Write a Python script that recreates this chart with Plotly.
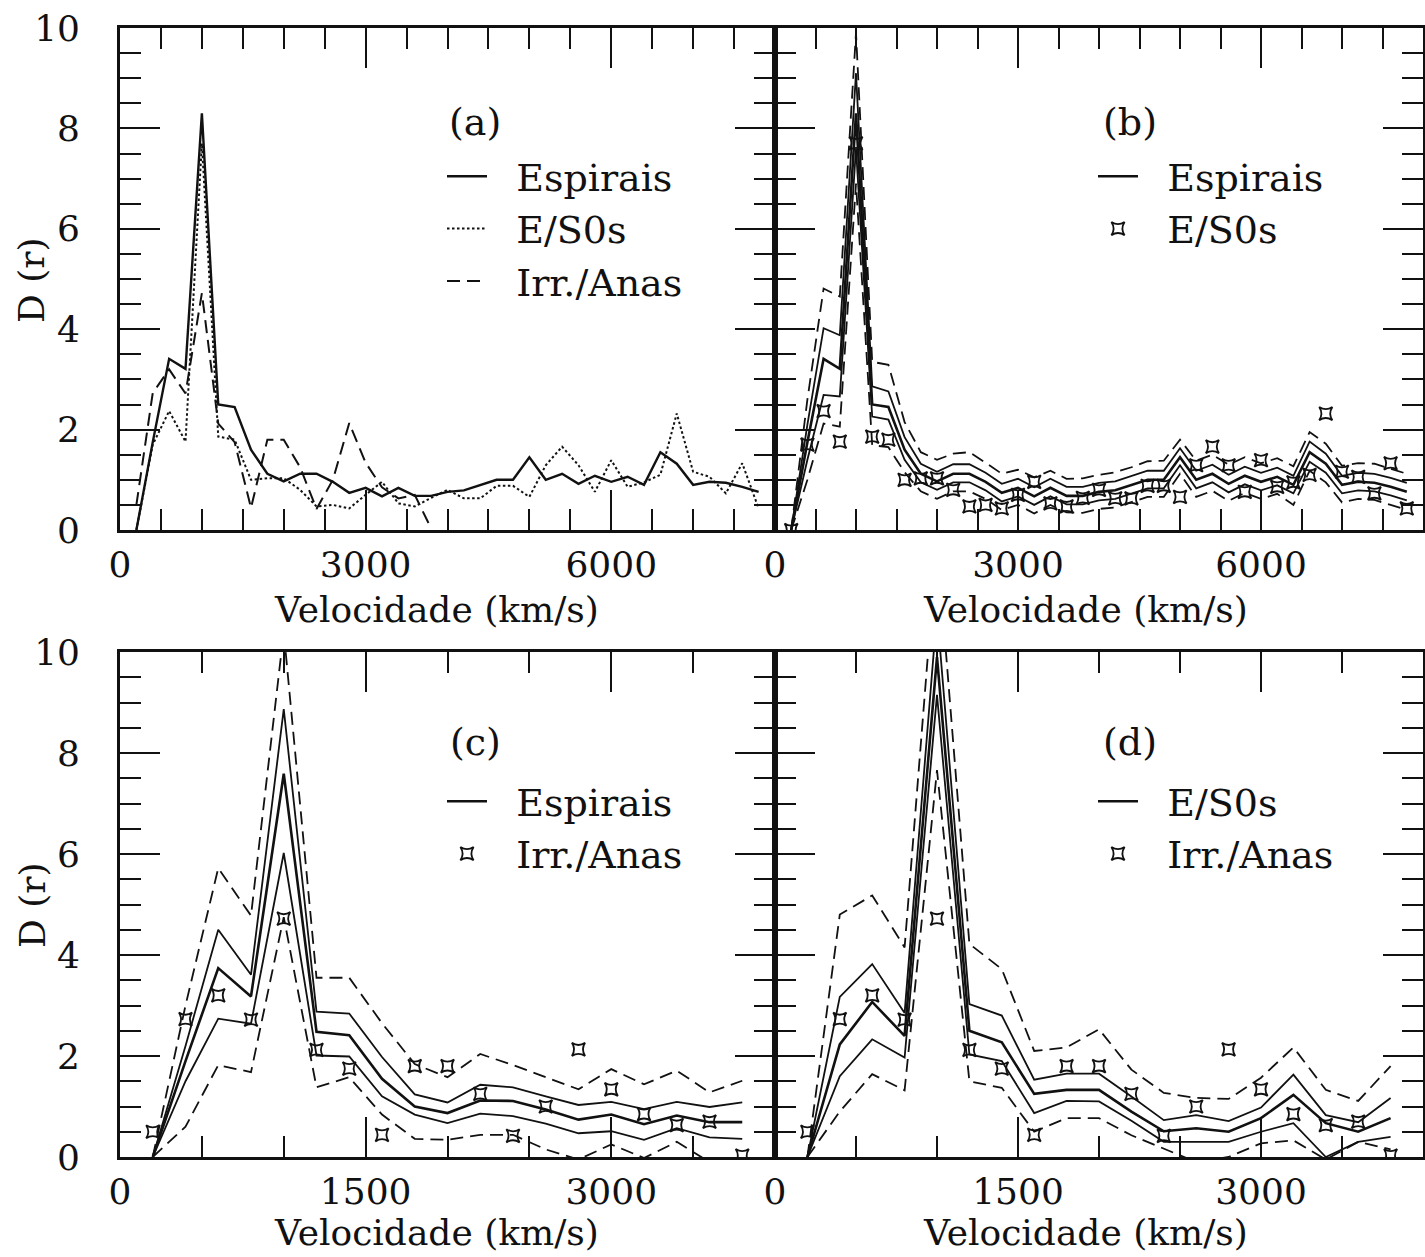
import plotly.graph_objects as go

W, H = 1425, 1257

# ---------------- data ----------------
# velocity bins (km/s)
vel = [200, 400, 600, 800, 1000, 1200, 1400, 1600, 1800, 2000, 2200, 2400, 2600,
       2800, 3000, 3200, 3400, 3600, 3800, 4000, 4200, 4400, 4600, 4800, 5000,
       5200, 5400, 5600, 5800, 6000, 6200, 6400, 6600, 6800, 7000, 7200, 7400,
       7600, 7800]
vel_low = vel[:19]   # 200 .. 3800

espirais = [0.0, 1.75, 3.41, 3.21, 8.3, 2.5, 2.45, 1.6, 1.12, 0.97, 1.12, 1.12, 0.96,
            0.74, 0.84, 0.67, 0.84, 0.68, 0.68, 0.76, 0.79, 0.89, 1.0, 1.0, 1.45,
            1.0, 1.12, 0.92, 1.08, 0.96, 1.06, 0.9, 1.55, 1.32, 0.9, 0.96, 0.94,
            0.86, 0.76]
es0 = [0.0, 1.7, 2.37, 1.76, 7.7, 1.86, 1.8, 1.0, 1.03, 1.03, 0.8, 0.47, 0.5,
       0.43, 0.7, 0.96, 0.53, 0.47, 0.64, 0.8, 0.63, 0.63, 0.88, 0.88, 0.66,
       1.29, 1.66, 1.29, 0.76, 1.39, 0.86, 0.95, 1.1, 2.32, 1.16, 1.06, 0.73,
       1.33, 0.43]
irr = [0.5, 2.73, 3.2, 2.72, 4.72, 2.12, 1.75, 0.44, 1.8, 1.8, 1.25, 0.42, 1.0,
       2.13, 1.34, 0.85, 0.63, 0.7, 0.03]

# panel (b): envelopes around the spiral curve
b_hi2 = [0, 2.6, 4.81, 4.65, 9.9, 3.35, 3.29, 2.15, 1.55, 1.4, 1.52, 1.55, 1.34,
         1.12, 1.2, 1.05, 1.18, 1.02, 1.03, 1.1, 1.15, 1.25, 1.37, 1.38, 1.8,
         1.38, 1.5, 1.3, 1.45, 1.33, 1.43, 1.27, 1.95, 1.72, 1.28, 1.33, 1.32,
         1.22, 1.12]
b_hi1 = [0, 2.1, 4.02, 3.88, 9.1, 2.86, 2.76, 1.85, 1.32, 1.16, 1.31, 1.31, 1.14,
         0.92, 1.02, 0.85, 1.02, 0.86, 0.86, 0.94, 0.97, 1.07, 1.18, 1.18, 1.63,
         1.18, 1.3, 1.1, 1.26, 1.14, 1.24, 1.08, 1.76, 1.52, 1.08, 1.14, 1.12,
         1.04, 0.94]
b_lo1 = [0, 1.4, 2.69, 2.66, 7.6, 2.26, 2.2, 1.4, 0.95, 0.8, 0.95, 0.95, 0.79,
         0.57, 0.67, 0.5, 0.67, 0.51, 0.51, 0.59, 0.62, 0.72, 0.83, 0.83, 1.29,
         0.83, 0.95, 0.75, 0.91, 0.79, 0.89, 0.73, 1.36, 1.14, 0.73, 0.79, 0.77,
         0.69, 0.59]
b_lo2 = [0, 1.0, 2.12, 2.06, 6.9, 1.69, 1.65, 1.15, 0.77, 0.62, 0.77, 0.77, 0.62,
         0.4, 0.5, 0.33, 0.5, 0.35, 0.34, 0.42, 0.45, 0.55, 0.66, 0.66, 1.12,
         0.66, 0.78, 0.58, 0.74, 0.62, 0.72, 0.5, 1.18, 0.95, 0.55, 0.62, 0.6,
         0.5, 0.4]

# panel (c): spirals (0-4000 km/s) with envelopes
c_mid = [0, 1.9, 3.74, 3.18, 7.59, 2.48, 2.41, 1.55, 1.0, 0.87, 1.12, 1.11, 0.94,
         0.74, 0.84, 0.65, 0.82, 0.69, 0.69]
c_hi1 = [0, 2.2, 4.5, 3.61, 8.87, 2.88, 2.84, 1.98, 1.24, 1.08, 1.43, 1.38, 1.2,
         1.03, 1.09, 0.95, 1.09, 0.99, 1.08]
c_lo1 = [0, 1.5, 2.74, 2.64, 6.02, 2.01, 1.99, 1.2, 0.84, 0.67, 0.86, 0.81, 0.66,
         0.47, 0.51, 0.34, 0.57, 0.39, 0.36]
c_hi2 = [0, 3.0, 5.72, 4.78, 10.4, 3.55, 3.55, 2.65, 1.84, 1.58, 2.04, 1.82, 1.58,
         1.34, 1.74, 1.44, 1.71, 1.28, 1.51]
c_lo2 = [0, 0.6, 1.82, 1.68, 4.75, 1.38, 1.58, 0.84, 0.36, 0.34, 0.44, 0.44, 0.15,
         -0.05, 0.25, -0.02, 0.3, -0.1, -0.3]

# panel (d): E/S0s (0-4000 km/s) with envelopes
d_mid = [0, 2.23, 3.07, 2.4, 9.9, 2.5, 2.27, 1.25, 1.33, 1.33, 0.9, 0.51, 0.57,
         0.5, 0.77, 1.23, 0.67, 0.5, 0.77]
d_hi1 = [0, 3.17, 3.82, 2.85, 10.8, 3.03, 2.8, 1.53, 1.65, 1.65, 1.2, 0.73, 0.83,
         0.71, 0.98, 1.63, 0.83, 0.69, 1.17]
d_lo1 = [0, 1.6, 2.33, 1.97, 9.15, 2.03, 1.9, 0.87, 1.11, 1.1, 0.72, 0.3, 0.3,
         0.3, 0.5, 0.67, 0.0, 0.3, 0.4]
d_hi2 = [0, 4.8, 5.18, 4.15, 12.2, 4.22, 3.72, 2.1, 2.17, 2.53, 1.73, 1.27, 1.17,
         1.15, 1.57, 2.17, 1.33, 1.11, 1.8]
d_lo2 = [0, 0.9, 1.64, 1.32, 7.66, 1.5, 1.37, 0.5, 0.77, 0.77, 0.43, 0.17, -0.1,
         0.0, 0.27, 0.33, -0.05, 0.3, 0.15]

# ---------------- styling ----------------
FONT = "DejaVu Serif"
INK = "#111111"
DASH = "13px,7px"
DOT = "2.5px,2.5px"
GAP = "\u00a0\u00a0"   # space between legend symbol and its text


def px(x):
    return x / W


def py(y):
    return 1 - y / H


fig = go.Figure()


def line(xs, ys, ax, dash="solid", width=2.0, name=None, legend=None):
    fig.add_trace(go.Scatter(
        x=xs, y=ys, mode="lines", xaxis="x" + ax, yaxis="y" + ax,
        line=dict(color=INK, width=width, dash=dash),
        name=(GAP + name) if name else None, showlegend=legend is not None,
        legend=legend if legend else "legend",
    ))


def points(xs, ys, ax, name, legend):
    fig.add_trace(go.Scatter(
        x=xs, y=ys, mode="markers", xaxis="x" + ax, yaxis="y" + ax,
        marker=dict(symbol="star-square-open", size=12, color=INK,
                    line=dict(color=INK, width=1.8)),
        name=GAP + name, showlegend=True, legend=legend,
    ))


# (a)
line(vel, espirais, "", width=2.4, name="Espirais", legend="legend")
line(vel, es0, "", dash=DOT, width=2.0, name="E/S0s", legend="legend")
line(vel_low, irr, "", dash=DASH, width=2.0, name="Irr./Anas", legend="legend")

# (b)
for arr, d in ((b_hi2, DASH), (b_hi1, "solid"), (b_lo1, "solid"), (b_lo2, DASH)):
    line(vel, arr, "2", dash=d, width=1.8)
line(vel, espirais, "2", width=2.6, name="Espirais", legend="legend2")
points(vel, es0, "2", "E/S0s", "legend2")

# (c)
for arr, d in ((c_hi2, DASH), (c_hi1, "solid"), (c_lo1, "solid"), (c_lo2, DASH)):
    line(vel_low, arr, "3", dash=d, width=1.8)
line(vel_low, c_mid, "3", width=2.6, name="Espirais", legend="legend3")
points(vel_low, irr, "3", "Irr./Anas", "legend3")

# (d)
for arr, d in ((d_hi2, DASH), (d_hi1, "solid"), (d_lo1, "solid"), (d_lo2, DASH)):
    line(vel_low, arr, "4", dash=d, width=1.8)
line(vel_low, d_mid, "4", width=2.6, name="E/S0s", legend="legend4")
points(vel_low, irr, "4", "Irr./Anas", "legend4")

# ---------------- axes ----------------
col_left = [px(120), px(775)]
col_right = [px(775), px(1423)]
row_top = [py(530), py(28)]
row_bot = [py(1157), py(652)]

tickfont = dict(family=FONT, size=36, color=INK)


def xaxis(dom, anchor, rng, dtick):
    return dict(domain=dom, anchor=anchor, range=rng, dtick=dtick, tick0=0,
                automargin=False,
                showline=True, linecolor=INK, linewidth=2.6, mirror="allticks",
                ticks="inside", ticklen=40, tickwidth=2.3, tickcolor=INK,
                showgrid=False, zeroline=False, tickfont=tickfont,
                ticklabelstandoff=1,
                minor=dict(ticks="inside", ticklen=21, tickwidth=2.3,
                           tickcolor=INK, dtick=500, tick0=0, showgrid=False))


def yaxis(dom, anchor, labels):
    return dict(domain=dom, anchor=anchor, range=[0, 10], dtick=2, tick0=0,
                automargin=False,
                showline=True, linecolor=INK, linewidth=2.6, mirror="allticks",
                ticks="inside", ticklen=40, tickwidth=2.3, tickcolor=INK,
                showgrid=False, zeroline=False, tickfont=tickfont,
                showticklabels=labels, ticklabelstandoff=30,
                minor=dict(ticks="inside", ticklen=21, tickwidth=2.3,
                           tickcolor=INK, dtick=0.5, tick0=0, showgrid=False))


legend_common = dict(font=dict(family=FONT, size=38, color=INK),
                     bgcolor="rgba(0,0,0,0)", borderwidth=0,
                     xanchor="left", yanchor="top", traceorder="normal",
                     itemwidth=40, tracegroupgap=0)

fig.update_layout(
    width=W, height=H,
    margin=dict(l=0, r=0, t=0, b=0, autoexpand=False),
    paper_bgcolor="white", plot_bgcolor="white",
    xaxis=xaxis(col_left, "y", [0, 8000], 3000),
    yaxis=yaxis(row_top, "x", True),
    xaxis2=xaxis(col_right, "y2", [0, 8000], 3000),
    yaxis2=yaxis(row_top, "x2", False),
    xaxis3=xaxis(col_left, "y3", [0, 4000], 1500),
    yaxis3=yaxis(row_bot, "x3", True),
    xaxis4=xaxis(col_right, "y4", [0, 4000], 1500),
    yaxis4=yaxis(row_bot, "x4", False),
    legend=dict(x=px(442), y=py(145), **legend_common),
    legend2=dict(x=px(1093), y=py(145), **legend_common),
    legend3=dict(x=px(442), y=py(770), **legend_common),
    legend4=dict(x=px(1093), y=py(770), **legend_common),
)

# ---------------- text ----------------
ann_font = dict(family=FONT, size=38, color=INK)
title_font = dict(family=FONT, size=36, color=INK)
for txt, x, y in [("(a)", 475, 122), ("(b)", 1130, 122),
                  ("(c)", 475, 742), ("(d)", 1130, 742)]:
    fig.add_annotation(text=txt, x=px(x), y=py(y), xref="paper", yref="paper",
                       showarrow=False, font=ann_font,
                       xanchor="center", yanchor="middle")
for x, y in [(437, 609), (1085, 609), (437, 1232), (1085, 1232)]:
    fig.add_annotation(text="Velocidade (km/s)", x=px(x), y=py(y),
                       xref="paper", yref="paper", showarrow=False,
                       font=title_font, xanchor="center", yanchor="middle")
for y in (280, 905):
    fig.add_annotation(text="D (r)", x=px(32), y=py(y), xref="paper",
                       yref="paper", showarrow=False, font=title_font,
                       textangle=-90, xanchor="center", yanchor="middle")

fig.write_html("out.html")
